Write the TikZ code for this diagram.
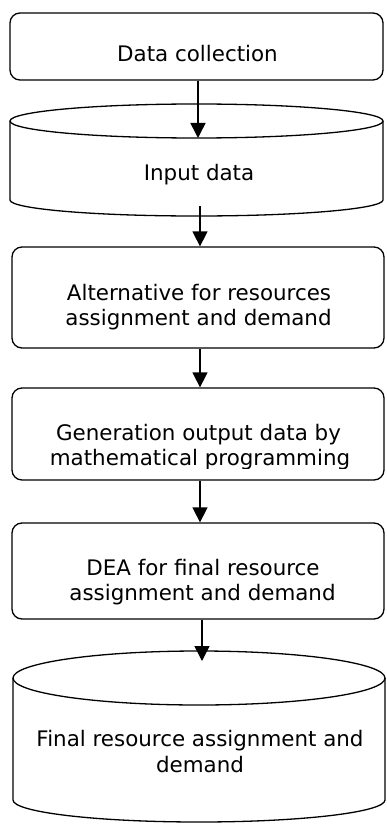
\documentclass[tikz,border=0pt]{standalone}
\usepackage{fontspec}
\setmainfont{DejaVu Sans}
\usetikzlibrary{arrows.meta}
\begin{document}
\begin{tikzpicture}[x=1pt,y=-1pt,
  box/.style={draw, line width=1.3pt, rounded corners=10pt, inner sep=0pt},
  cyl/.style={draw, line width=1.3pt},
  lbl/.style={anchor=base, inner sep=0pt, font=\fontsize{21.4}{25}\selectfont},
  arr/.style={line width=1.5pt, -{Triangle[width=15pt,length=15pt]}}]
\useasboundingbox (0,0) rectangle (386,824);
\fill[white] (0,0) rectangle (386,824);

% Box 1
\node[box, minimum width=373pt, minimum height=67pt] (b1) at (196.5,46.5) {};
\node[lbl] (t1) at (197.5,62) {Data collection};

% Cylinder 1
\draw[cyl] (196.5,121) ellipse [x radius=186.5, y radius=17];
\draw[cyl] (10,121) -- (10,200) arc[x radius=186.5, y radius=16, start angle=180, end angle=0] -- (383,121);
\node[lbl] (t2) at (199,180) {Input data};

% Box 3
\node[box, minimum width=372pt, minimum height=101pt] (b3) at (198,297.5) {};
\node[lbl] (t3a) at (199,300) {Alternative for resources};
\node[lbl] (t3b) at (198.5,325) {assignment and demand};

% Box 4
\node[box, minimum width=372pt, minimum height=92pt] (b4) at (198,434) {};
\node[lbl] (t4a) at (198.5,440.5) {Generation output data by};
\begin{scope}
\clip (14,445) rectangle (382,468);
\node[lbl] (t4b) at (200,465.5) {mathematical programming};
\end{scope}

% Box 5
\node[box, minimum width=372pt, minimum height=96pt] (b5) at (198,571) {};
\node[lbl] (t5a) at (203,575) {DEA for final resource};
\node[lbl] (t5b) at (202.5,600) {assignment and demand};

% Cylinder 2
\draw[cyl] (199,678) ellipse [x radius=186, y radius=27];
\draw[cyl] (13,678) -- (13,800) arc[x radius=186, y radius=22, start angle=180, end angle=0] -- (385,678);
\node[lbl] (t6a) at (200,746) {Final resource assignment and};
\node[lbl] (t6b) at (200,772) {demand};

% connector coordinates
\coordinate (x1) at (198,0);
\coordinate (x2) at (200,0);
\coordinate (x5) at (202,0);
\coordinate (c1tip) at (198,138);
\coordinate (c1out) at (200,206);
\coordinate (c2tip) at (202,661);

% Arrows
\draw[arr] (b1.south -| x1) -- (c1tip);
\draw[arr] (c1out) -- (b3.north -| x2);
\draw[arr] (b3.south -| x2) -- (b4.north -| x2);
\draw[arr] (b4.south -| x2) -- (b5.north -| x2);
\draw[arr] (b5.south -| x5) -- (c2tip);
\end{tikzpicture}
\end{document}
